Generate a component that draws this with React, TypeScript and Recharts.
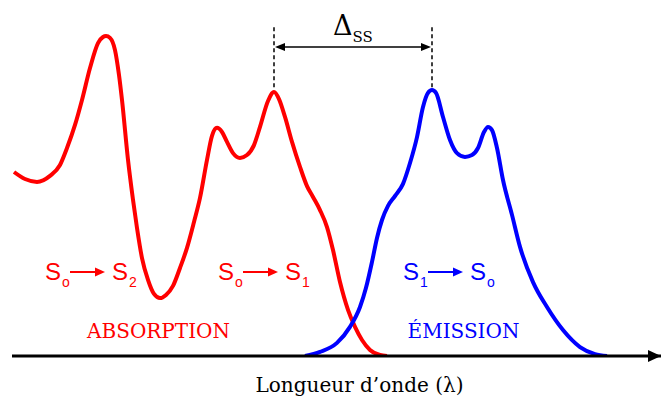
import React from "react";
import {
    LineChart,
    Line,
    XAxis,
    YAxis,
    ReferenceLine,
    ReferenceDot,
} from "recharts";

// Absorption band (wavelength in nm, normalised intensity)
const absWl = [
    300.8, 305.2, 310.0, 315.2, 319.2, 322.0, 325.2, 328.0, 331.2, 334.4,
    336.4, 337.6, 339.2, 341.2, 342.8, 344.0, 346.4, 348.4, 350.0, 352.0,
    354.4, 356.8, 359.2, 361.6, 364.4, 367.2, 370.0, 372.8, 375.2, 378.0,
    380.0, 382.0, 384.0, 386.0, 388.4, 391.2, 394.0, 396.8, 399.2, 402.4,
    404.8, 406.8, 409.2, 412.0, 415.2, 418.0, 420.4, 423.2, 426.0, 428.4,
    431.2, 434.4, 437.2, 440.0, 443.2, 447.2, 450.0,
];
const absI = [
    0.575, 0.553, 0.544, 0.563, 0.597, 0.65, 0.722, 0.8, 0.9, 0.978,
    0.997, 1.0, 0.994, 0.956, 0.878, 0.8, 0.613, 0.488, 0.4, 0.306,
    0.238, 0.194, 0.181, 0.191, 0.219, 0.275, 0.338, 0.419, 0.494, 0.613,
    0.688, 0.713, 0.7, 0.669, 0.634, 0.619, 0.628, 0.659, 0.716, 0.797,
    0.825, 0.803, 0.747, 0.669, 0.591, 0.531, 0.497, 0.456, 0.403, 0.331,
    0.231, 0.144, 0.091, 0.05, 0.019, 0.003, 0.0,
];

// Emission band
const emWl = [
    417.2, 423.2, 430.0, 435.2, 439.2, 441.6, 444.0, 446.0, 448.0, 450.4,
    453.2, 456.4, 459.2, 462.0, 464.4, 466.4, 468.0, 469.6, 472.4, 475.2,
    478.0, 481.2, 484.0, 486.4, 488.8, 490.4, 492.0, 494.0, 496.4, 500.0,
    503.2, 508.4, 514.0, 520.4, 527.2, 533.2, 538.0,
];
const emI = [
    0.0, 0.013, 0.041, 0.091, 0.153, 0.213, 0.294, 0.369, 0.425, 0.469,
    0.5, 0.538, 0.603, 0.684, 0.778, 0.822, 0.831, 0.822, 0.747, 0.675,
    0.634, 0.622, 0.628, 0.65, 0.7, 0.716, 0.706, 0.65, 0.55, 0.441,
    0.341, 0.231, 0.153, 0.081, 0.028, 0.006, 0.0,
];

const absPeak = 404.8; // lowest-energy absorption maximum
const emPeak = 468.0; // emission maximum

const absorption = absWl.map((wl, i) => ({ wl, i: absI[i] }));
const emission = emWl.map((wl, i) => ({ wl, i: emI[i] }));

const RED = "#ff0000";
const BLUE = "#0000ff";
const SERIF = "'DejaVu Serif', serif";
const SANS = "'Liberation Sans', Arial, sans-serif";

type DotProps = { cx?: number; cy?: number };

// "S_a -> S_b" label, anchored at the baseline of the first S
const transition =
    (aSub: string, bSub: string, color: string) => (p: DotProps) => {
        const { cx = 0, cy = 0 } = p;
        const ay = cy - 8;
        return (
            <g fill={color} fontFamily={SANS}>
                <text x={cx} y={cy} fontSize={24}>S</text>
                <text x={cx + 17} y={cy + 7} fontSize={14}>{aSub}</text>
                <line x1={cx + 25} y1={ay} x2={cx + 52} y2={ay} stroke={color} strokeWidth={2} />
                <polygon points={`${cx + 60},${ay} ${cx + 50},${ay - 4.5} ${cx + 50},${ay + 4.5}`} />
                <text x={cx + 67} y={cy} fontSize={24}>S</text>
                <text x={cx + 84} y={cy + 7} fontSize={14}>{bSub}</text>
            </g>
        );
    };

const word = (value: string, color: string, size: number) => (p: DotProps) => (
    <text
        x={p.cx}
        y={p.cy}
        textAnchor="middle"
        fill={color}
        fontFamily={SERIF}
        fontSize={size}
    >
        {value}
    </text>
);

const arrowHead = (dir: 1 | -1, w: number, h: number) => (p: DotProps) => {
    const { cx = 0, cy = 0 } = p;
    return (
        <polygon
            points={`${cx},${cy} ${cx - dir * w},${cy - h} ${cx - dir * w},${cy + h}`}
            fill="#000"
        />
    );
};

const deltaLabel = (p: DotProps) => (
    <text x={p.cx} y={p.cy} fill="#000" fontFamily={SERIF} fontSize={27}>
        Δ
        <tspan dy={7} fontSize={15}>SS</tspan>
    </text>
);

export default function App() {
    return (
        <div style={{ position: "absolute", left: 0, top: 0, background: "#fff" }}>
            <LineChart
                width={661}
                height={398}
                margin={{ top: 0, right: 0, bottom: 0, left: 12 }}
            >
                <XAxis
                    dataKey="wl"
                    type="number"
                    domain={[300, 559.6]}
                    allowDataOverflow
                    tick={false}
                    tickLine={false}
                    height={42}
                    axisLine={{ stroke: "#000", strokeWidth: 3 }}
                />
                <YAxis hide type="number" domain={[0, 1.1125]} allowDataOverflow />

                {/* Stokes shift marker */}
                <ReferenceLine
                    segment={[{ x: absPeak, y: 0.84 }, { x: absPeak, y: 1.034 }]}
                    stroke="#000"
                    strokeWidth={1.5}
                    strokeDasharray="4 3"
                />
                <ReferenceLine
                    segment={[{ x: emPeak, y: 0.84 }, { x: emPeak, y: 1.034 }]}
                    stroke="#000"
                    strokeWidth={1.5}
                    strokeDasharray="4 3"
                />
                <ReferenceLine
                    segment={[{ x: absPeak + 2, y: 0.966 }, { x: emPeak - 2, y: 0.966 }]}
                    stroke="#000"
                    strokeWidth={1.5}
                />
                <ReferenceDot x={absPeak + 0.4} y={0.966} shape={arrowHead(-1, 10, 4)} />
                <ReferenceDot x={emPeak - 0.4} y={0.966} shape={arrowHead(1, 10, 4)} />
                <ReferenceDot x={428.4} y={1.003} shape={deltaLabel} />

                <Line
                    data={absorption}
                    dataKey="i"
                    type="monotone"
                    stroke={RED}
                    strokeWidth={4}
                    dot={false}
                    isAnimationActive={false}
                />
                <Line
                    data={emission}
                    dataKey="i"
                    type="monotone"
                    stroke={BLUE}
                    strokeWidth={4}
                    dot={false}
                    isAnimationActive={false}
                />

                <ReferenceDot x={313.2} y={0.2375} shape={transition("o", "2", RED)} />
                <ReferenceDot x={382.4} y={0.2375} shape={transition("o", "1", RED)} />
                <ReferenceDot x={456.4} y={0.2375} shape={transition("1", "o", BLUE)} />
                <ReferenceDot x={358.6} y={0.056} shape={word("ABSORPTION", RED, 20)} />
                <ReferenceDot x={480.6} y={0.056} shape={word("ÉMISSION", BLUE, 20)} />

                <ReferenceDot
                    x={559.6}
                    y={0}
                    ifOverflow="visible"
                    shape={arrowHead(1, 13, 6)}
                />
                <ReferenceDot
                    x={439}
                    y={-0.1125}
                    ifOverflow="visible"
                    shape={word("Longueur d\u2019onde (λ)", "#000", 20)}
                />
            </LineChart>
        </div>
    );
}
